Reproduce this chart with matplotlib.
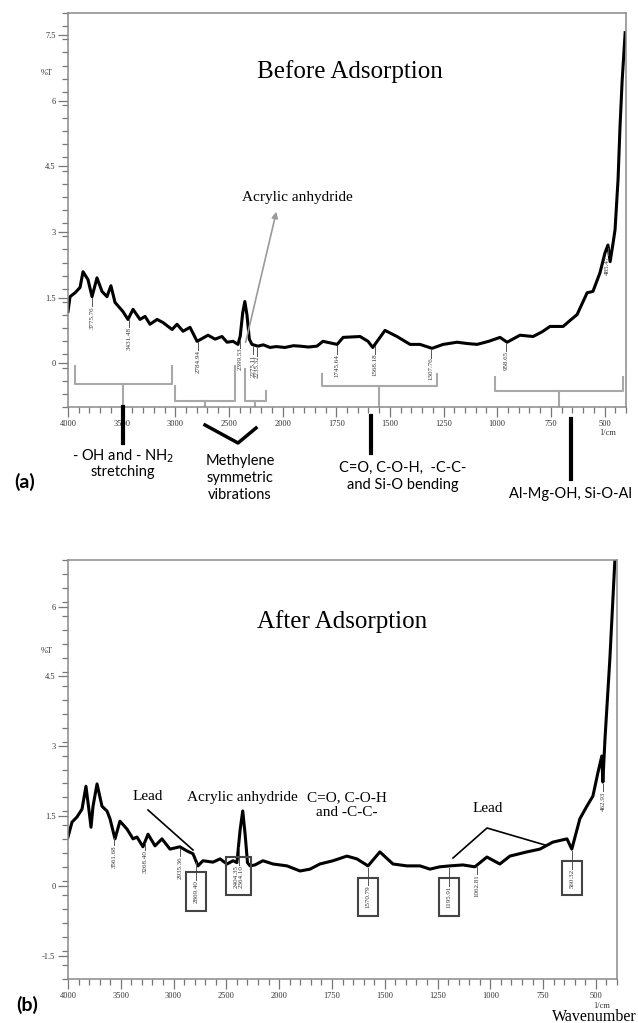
import numpy as np
import matplotlib
matplotlib.use('Agg')
import matplotlib.pyplot as plt
from matplotlib.lines import Line2D
from matplotlib.ticker import FuncFormatter

plt.rcParams['font.family'] = ['Liberation Serif', 'DejaVu Serif']

# FTIR spectrum before adsorption (wavenumber 1/cm, %T)
wn_a = [4000, 3981, 3934, 3888, 3860, 3814, 3776, 3730, 3683, 3637, 3600, 3562,
        3488, 3441, 3394, 3329, 3282, 3236, 3170, 3115, 3030, 2984, 2928, 2863,
        2797, 2695, 2630, 2565, 2518, 2462, 2416, 2395, 2372, 2352, 2332, 2310,
        2286, 2230, 2180, 2118, 2060, 1989, 1950, 1919, 1880, 1840, 1812, 1746,
        1718, 1680, 1639, 1602, 1580, 1523, 1467, 1406, 1360, 1304, 1252, 1187,
        1140, 1094, 1040, 987, 954, 894, 833, 790, 754, 693, 660, 628, 581, 554,
        521, 498, 484, 474, 460, 451, 437, 428, 418, 404]
pt_a = [1.18, 1.52, 1.61, 1.73, 2.09, 1.91, 1.52, 1.95, 1.64, 1.52, 1.77, 1.39,
        1.18, 1.00, 1.23, 1.00, 1.07, 0.89, 1.00, 0.93, 0.77, 0.89, 0.73, 0.82,
        0.50, 0.64, 0.55, 0.61, 0.48, 0.50, 0.43, 0.62, 1.15, 1.41, 1.10, 0.55,
        0.43, 0.39, 0.42, 0.36, 0.38, 0.36, 0.40, 0.39, 0.37, 0.39, 0.50, 0.43,
        0.59, 0.60, 0.61, 0.50, 0.36, 0.75, 0.61, 0.43, 0.43, 0.34, 0.43, 0.48,
        0.45, 0.43, 0.50, 0.59, 0.48, 0.64, 0.61, 0.72, 0.84, 0.84, 0.98, 1.11,
        1.61, 1.64, 2.07, 2.52, 2.70, 2.32, 2.75, 3.05, 4.20, 5.39, 6.45, 7.55]
peaks_a = [3775.76, 3431.48, 2784.94, 2399.53, 2275.11, 2235.32, 1745.64,
           1568.18, 1307.76, 958.65, 485.47]

# FTIR spectrum after adsorption
wn_b = [4000, 3962, 3915, 3867, 3830, 3800, 3782, 3763, 3725, 3678, 3631, 3602,
        3555, 3508, 3441, 3384, 3347, 3290, 3242, 3176, 3110, 3034, 2940, 2873,
        2816, 2769, 2722, 2627, 2560, 2494, 2437, 2400, 2370, 2345, 2322, 2300,
        2276, 2229, 2154, 2058, 1963, 1901, 1854, 1807, 1745, 1679, 1632, 1579,
        1523, 1461, 1395, 1333, 1286, 1239, 1191, 1130, 1073, 1016, 955, 907, 827,
        765, 704, 637, 614, 576, 543, 514, 490, 472, 467, 457, 434, 410, 402]
pt_b = [1.05, 1.37, 1.48, 1.65, 2.14, 1.60, 1.26, 1.71, 2.19, 1.71, 1.61, 1.44,
        1.01, 1.39, 1.22, 1.01, 1.05, 0.84, 1.11, 0.86, 1.01, 0.79, 0.84, 0.75,
        0.69, 0.43, 0.54, 0.51, 0.58, 0.47, 0.54, 0.50, 1.20, 1.61, 1.10, 0.50,
        0.43, 0.45, 0.54, 0.47, 0.43, 0.32, 0.36, 0.47, 0.54, 0.64, 0.58, 0.43,
        0.73, 0.47, 0.43, 0.43, 0.36, 0.41, 0.43, 0.45, 0.41, 0.62, 0.47, 0.64,
        0.73, 0.79, 0.94, 1.01, 0.79, 1.44, 1.71, 1.93, 2.44, 2.79, 2.23, 3.15,
        4.86, 7.00, 7.40]
# where each label sits on the trace, and its text
peaks_b = [3561.68, 3268.40, 2935.36, 2790.0, 2384.0, 1579.0, 1195.91,
           1062.81, 614.0, 467.0]
labels_b = ['3561.68', '3268.40', '2935.36', '2869.40', '2404.35\n2364.10',
            '1570.79', '1195.91', '1062.81', '560.32', '462.93']
boxed_b = [False, False, False, True, True, True, True, False, True, False]

W, H = 638, 1023


def fp(px, py):
    return px / W, 1 - py / H


# IR spectra: 4000-2000 region drawn at half scale
def fwd(x):
    x = np.asarray(x, dtype=float)
    return np.where(x > 2000, 2000 + (x - 2000) / 2.0, x)


def inv(t):
    t = np.asarray(t, dtype=float)
    return np.where(t > 2000, 2000 + (t - 2000) * 2.0, t)


def setup(ax, ylo, yhi, yticks):
    ax.set_xscale('function', functions=(fwd, inv))
    ax.set_xlim(4000, 400)
    ax.set_ylim(ylo, yhi)
    ax.set_xticks([4000, 3500, 3000, 2500, 2000, 1750, 1500, 1250, 1000, 750, 500])
    ax.set_xticks(list(range(4000, 2000, -100)) + list(range(2000, 399, -50)), minor=True)
    ax.set_yticks(yticks)
    ax.set_yticks(np.arange(ylo, yhi + 0.01, 0.3), minor=True)
    fmt = FuncFormatter(lambda v, p: '%g' % v)
    ax.xaxis.set_major_formatter(fmt)
    ax.yaxis.set_major_formatter(fmt)
    ax.tick_params(which='both', direction='out', color='#777777', labelsize=6,
                   labelcolor='#333333', pad=2, width=0.9)
    ax.tick_params(which='major', length=7)
    ax.tick_params(which='minor', length=4)
    for s in ax.spines.values():
        s.set_color('#8a8a8a')
        s.set_linewidth(1.1)


def peak_marks(ax, wn, pt, peaks, labels, boxed, gap, bgap):
    xs = np.array(wn[::-1], dtype=float)
    ys = np.array(pt[::-1], dtype=float)
    for p, lab, b in zip(peaks, labels, boxed):
        yc = np.interp(p, xs, ys)
        g = bgap if b else gap
        ax.plot([p, p], [yc - 0.04, yc - g], color='#555555', lw=0.7)
        kw = {}
        if b:
            kw['bbox'] = dict(boxstyle='square,pad=1.1', fc='none', ec='#444444', lw=1.5)
        ax.text(p, yc - g, lab, rotation=90, ha='center', va='top', fontsize=5,
                color='#333333', linespacing=1.0, **kw)


def fline(fig, pts, lw=3, color='black'):
    xs = [fp(*q)[0] for q in pts]
    ys = [fp(*q)[1] for q in pts]
    fig.add_artist(Line2D(xs, ys, color=color, lw=lw, transform=fig.transFigure))


def ftext(fig, px, py, s, **kw):
    x, y = fp(px, py)
    fig.text(x, y, s, ha='center', va='center', **kw)


fig = plt.figure(figsize=(W / 100, H / 100), dpi=100)

# ---------------- (a) before adsorption
ax1 = fig.add_axes([68 / W, 1 - 407 / H, 558 / W, 394 / H])
setup(ax1, -1, 8, [0, 1.5, 3, 4.5, 6, 7.5])
ax1.plot(wn_a, pt_a, color='black', lw=2.2, solid_joinstyle='round')
peak_marks(ax1, wn_a, pt_a, peaks_a, ['%.2f' % p for p in peaks_a],
           [False] * len(peaks_a), 0.22, 0.4)

# grey braces grouping the bands
braces = [(3934, 3030, 3488, -0.07, -0.07, -0.48),
          (3002, 2444, 2724, -0.52, -0.07, -0.86),
          (2350, 2154, 2257, -0.14, -0.64, -0.86),
          (1816, 1280, 1551, -0.25, -0.25, -0.52),
          (1010, 414, 712, -0.32, -0.32, -0.64)]
for xl, xr, xc, ytl, ytr, yb in braces:
    ax1.plot([xl, xl, xr, xr], [ytl, yb, yb, ytr], color='#a8a8a8', lw=1.5)
    ax1.plot([xc, xc], [yb, -1], color='#a8a8a8', lw=1.5)

ftext(fig, 350, 72, 'Before Adsorption', fontsize=18)
ftext(fig, 297, 197, 'Acrylic anhydride', fontsize=11)
fig.add_artist(plt.Annotation('', xy=fp(277, 209), xytext=fp(245, 345),
                              xycoords='figure fraction', textcoords='figure fraction',
                              arrowprops=dict(arrowstyle='-|>', color='#9a9a9a', lw=1.2,
                                              mutation_scale=9)))
ftext(fig, 47, 73, '%T', fontsize=6, color='#333333')
ftext(fig, 608, 433, '1/cm', fontsize=6, color='#333333')

fline(fig, [(123, 407), (123, 443)])
fline(fig, [(205, 425), (238, 443), (256, 428)], lw=2.5)
fline(fig, [(371, 416), (371, 453)])
fline(fig, [(571, 419), (571, 479)])
sans = ['Lato', 'DejaVu Sans']
ftext(fig, 123, 456, '- OH and - NH$_2$', fontsize=10.5, family=sans)
ftext(fig, 123, 472, 'stretching', fontsize=10.5, family=sans)
ftext(fig, 240, 461, 'Methylene', fontsize=10.5, family=sans)
ftext(fig, 240, 478, 'symmetric', fontsize=10.5, family=sans)
ftext(fig, 240, 495, 'vibrations', fontsize=10.5, family=sans)
ftext(fig, 403, 468, 'C=O, C-O-H,  -C-C-', fontsize=10.5, family=sans)
ftext(fig, 403, 485, 'and Si-O bending', fontsize=10.5, family=sans)
ftext(fig, 570, 494, 'Al-Mg-OH, Si-O-Al', fontsize=10.5, family=sans)
ftext(fig, 25, 482, '(a)', fontsize=14, fontweight='bold', family=sans)

# ---------------- (b) after adsorption
ax2 = fig.add_axes([68 / W, 1 - 979 / H, 549 / W, 419 / H])
setup(ax2, -2, 7, [-1.5, 0, 1.5, 3, 4.5, 6])
ax2.plot(wn_b, pt_b, color='black', lw=2.2, solid_joinstyle='round')
peak_marks(ax2, wn_b, pt_b, peaks_b, labels_b, boxed_b, 0.2, 0.42)

ftext(fig, 342, 622, 'After Adsorption', fontsize=18)
ftext(fig, 47, 651, '%T', fontsize=6, color='#333333')
ftext(fig, 148, 797, 'Lead', fontsize=11)
fline(fig, [(148, 810), (193, 850)], lw=1.2)
ftext(fig, 242, 797, 'Acrylic anhydride', fontsize=11)
ftext(fig, 347, 798, 'C=O, C-O-H', fontsize=11)
ftext(fig, 347, 812, 'and -C-C-', fontsize=11)
ftext(fig, 488, 808, 'Lead', fontsize=11)
fline(fig, [(453, 858), (487, 828), (545, 845)], lw=1.2)
ftext(fig, 602, 1006, '1/cm', fontsize=6, color='#333333')
ftext(fig, 594, 1017, 'Wavenumber', fontsize=11.5)
ftext(fig, 27, 1005, '(b)', fontsize=14, fontweight='bold', family=sans)

fig.savefig('out.png', dpi=100)
